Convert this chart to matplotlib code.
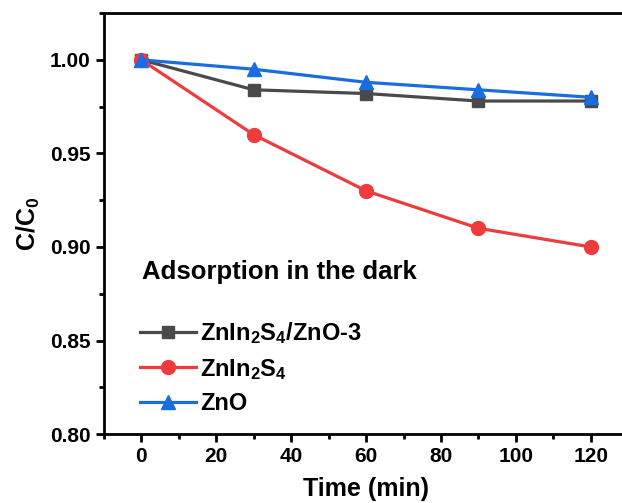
import matplotlib
matplotlib.use("Agg")
from matplotlib import pyplot as plt
from matplotlib.ticker import MultipleLocator

plt.rcParams['font.family'] = ['Liberation Sans', 'DejaVu Sans']
plt.rcParams['font.weight'] = 'bold'
plt.rcParams['mathtext.default'] = 'regular'

time_min = [0, 30, 60, 90, 120]
composite = [1.000, 0.984, 0.982, 0.978, 0.978]
znin2s4 = [1.000, 0.960, 0.930, 0.910, 0.900]
zno = [1.000, 0.995, 0.988, 0.984, 0.980]

labels = ["ZnIn$_2$S$_4$/ZnO-3", "ZnIn$_2$S$_4$", "ZnO"]

fig = plt.figure(figsize=(6.22, 5.03), dpi=100)
ax = fig.add_axes([0.167, 0.137, 0.843, 0.837])

ax.plot(time_min, composite, color="#4a4a4a", marker="s", markersize=9, linewidth=2.3, label=labels[0])
ax.plot(time_min, znin2s4, color="#ef3b3b", marker="o", markersize=10, linewidth=2.3, label=labels[1])
ax.plot(time_min, zno, color="#1a6ce0", marker="^", markersize=10, linewidth=2.3, label=labels[2])

ax.set_xlim(-10, 130)
ax.set_ylim(0.80, 1.025)
ax.xaxis.set_major_locator(MultipleLocator(20))
ax.xaxis.set_minor_locator(MultipleLocator(10))
ax.yaxis.set_major_locator(MultipleLocator(0.05))
ax.yaxis.set_minor_locator(MultipleLocator(0.025))
ax.yaxis.set_major_formatter(matplotlib.ticker.FormatStrFormatter("%.2f"))
ax.tick_params(which="major", direction="out", length=6, width=2, labelsize=15)
ax.tick_params(which="minor", direction="out", length=3.5, width=2)
for sp in ax.spines.values():
    sp.set_linewidth(2)

ax.set_xlabel("Time (min)", fontsize=18, fontweight="bold", labelpad=8)
ax.set_ylabel("C/C$_0$", fontsize=18, fontweight="bold", labelpad=6)

ax.text(0.072, 0.385, "Adsorption in the dark", transform=ax.transAxes,
        fontsize=18.5, fontweight="bold", va="center")

ax.legend(loc="lower left", bbox_to_anchor=(0.032, 0.0), frameon=False,
          fontsize=17, handlelength=2.4, handletextpad=0.15, labelspacing=0.45,
          borderaxespad=0.4)

fig.savefig("out.png", dpi=100)
